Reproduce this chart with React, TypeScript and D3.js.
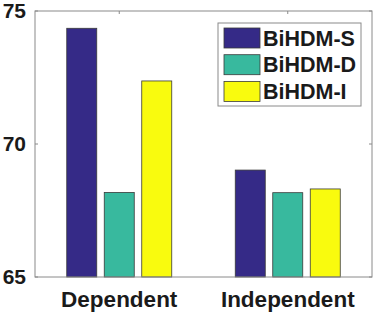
import { scaleBand, scaleLinear, select, axisLeft } from 'd3';
import React, { useEffect, useRef } from 'react';

const groups = ['Dependent', 'Independent'];
const methods = ['BiHDM-S', 'BiHDM-D', 'BiHDM-I'];
const colors = ['#352a87', '#38b99e', '#f9fb0e'];
const dependentValues = [74.35, 68.18, 72.37];
const independentValues = [69.02, 68.17, 68.31];
const yTicks = [65, 70, 75];

const W = 374;
const H = 313;
const margin = { top: 11, right: 2, bottom: 36, left: 35 };

const GroupedBars = () => {
  const svgRef = useRef<SVGSVGElement>(null);

  useEffect(() => {
    const svg = select(svgRef.current);
    svg.selectAll('*').remove();

    const innerW = W - margin.left - margin.right;
    const innerH = H - margin.top - margin.bottom;
    const g = svg.append('g').attr('transform', `translate(${margin.left},${margin.top})`);

    const x0 = scaleBand().domain(groups).range([0, innerW]).paddingInner(0).paddingOuter(0);
    // bars 30px wide, 37.5px apart
    const x1 = scaleBand().domain(methods).range([-52.5, 52.5]).paddingInner(0.2).paddingOuter(0);
    const y = scaleLinear().domain([65, 75]).range([innerH, 0]);

    const rows = groups.map((grp, i) => ({
      grp,
      values: i === 0 ? dependentValues : independentValues,
    }));

    rows.forEach((r) => {
      const cx = x0(r.grp)! + x0.bandwidth() / 2;
      g.selectAll(null)
        .data(r.values)
        .join('rect')
        .attr('x', (_, j) => cx + x1(methods[j])!)
        .attr('y', (d) => y(d))
        .attr('width', x1.bandwidth())
        .attr('height', (d) => innerH - y(d))
        .attr('fill', (_, j) => colors[j])
        .attr('stroke', '#3a3a3a')
        .attr('stroke-width', 0.8);
    });

    // box
    g.append('rect')
      .attr('x', 0)
      .attr('y', 0)
      .attr('width', innerW)
      .attr('height', innerH)
      .attr('fill', 'none')
      .attr('stroke', '#8a8a8a')
      .attr('stroke-width', 1);

    // inner ticks
    const tick = 3;
    yTicks.forEach((t) => {
      g.append('line').attr('x1', 0).attr('x2', tick).attr('y1', y(t)).attr('y2', y(t)).attr('stroke', '#8a8a8a');
      g.append('line').attr('x1', innerW).attr('x2', innerW - tick).attr('y1', y(t)).attr('y2', y(t)).attr('stroke', '#8a8a8a');
    });
    groups.forEach((grp) => {
      const cx = x0(grp)! + x0.bandwidth() / 2;
      g.append('line').attr('x1', cx).attr('x2', cx).attr('y1', 0).attr('y2', tick).attr('stroke', '#8a8a8a');
    });

    // y tick labels
    const yAxis = g.append('g').call(axisLeft(y).tickValues(yTicks).tickSize(0).tickPadding(9));
    yAxis.select('.domain').remove();
    yAxis
      .selectAll('text')
      .attr('font-family', 'Liberation Sans, Arial, sans-serif')
      .attr('font-weight', 'bold')
      .attr('font-size', 21)
      .attr('fill', '#1a1a1a');

    // x labels
    groups.forEach((grp) => {
      g.append('text')
        .attr('x', x0(grp)! + x0.bandwidth() / 2)
        .attr('y', innerH + 30)
        .attr('text-anchor', 'middle')
        .attr('font-family', 'Liberation Sans, Arial, sans-serif')
        .attr('font-weight', 'bold')
        .attr('font-size', 22.5)
        .attr('fill', '#1a1a1a')
        .text(grp);
    });

    // legend
    const lg = svg.append('g').attr('transform', 'translate(218,23)');
    lg.append('rect')
      .attr('width', 143)
      .attr('height', 83)
      .attr('fill', '#fff')
      .attr('stroke', '#8a8a8a');
    methods.forEach((m, i) => {
      const row = lg.append('g').attr('transform', `translate(6,${5 + i * 26.7})`);
      row.append('rect')
        .attr('width', 36)
        .attr('height', 20)
        .attr('fill', colors[i])
        .attr('stroke', '#3a3a3a')
        .attr('stroke-width', 0.8);
      row.append('text')
        .attr('x', 39)
        .attr('y', 17.5)
        .attr('font-family', 'Liberation Sans, Arial, sans-serif')
        .attr('font-weight', 'bold')
        .attr('font-size', 21.5)
        .attr('fill', '#1a1a1a')
        .text(m);
    });
  }, []);

  return (
    <svg
      ref={svgRef}
      width={W}
      height={H}
      style={{ position: 'absolute', left: 0, top: 0, background: '#fff' }}
    ></svg>
  );
};

export default function App() {
  return <GroupedBars />;
}
